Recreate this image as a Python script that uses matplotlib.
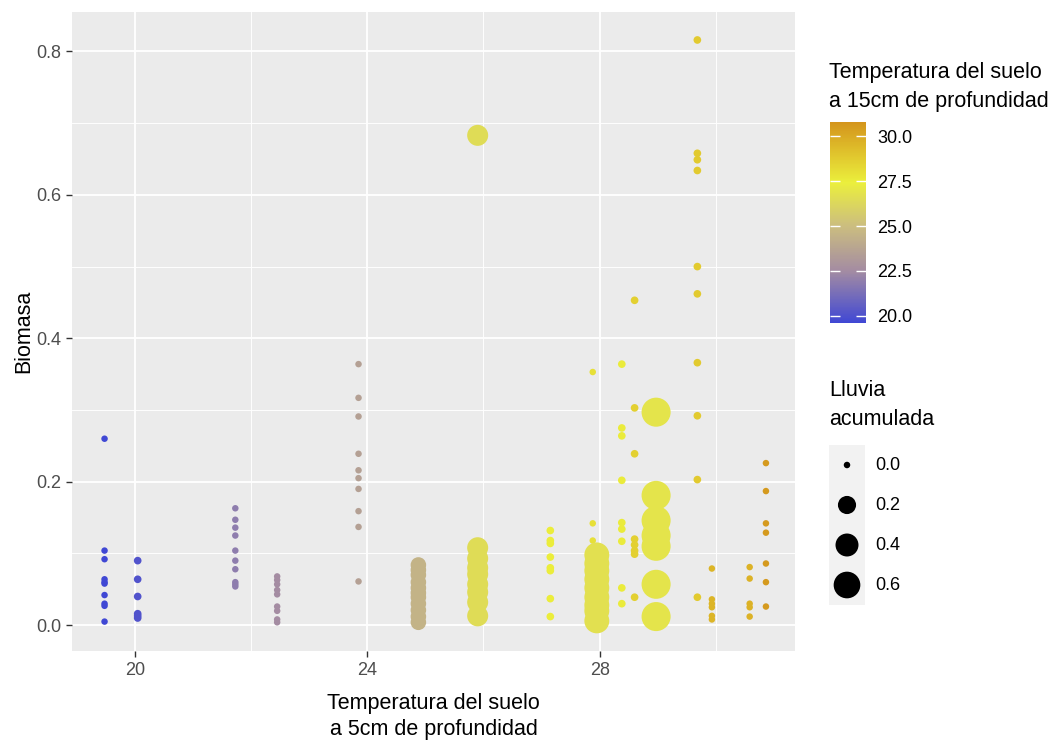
import numpy as np
import matplotlib.pyplot as plt
from matplotlib.colors import LinearSegmentedColormap, Normalize

plt.rcParams['font.family'] = ['Liberation Sans', 'DejaVu Sans']

# one entry per sampling column: soil temp at 5 cm (x), temp at 15 cm (colour), rain (size)
temp5 = [19.48, 20.05, 21.73, 22.45, 23.85, 24.88, 25.9, 27.15, 27.88, 27.95,
         28.38, 28.6, 28.97, 29.68, 29.93, 30.58, 30.86]
temp15 = [19.6, 20.1, 21.9, 22.5, 23.5, 24.5, 26.5, 27.5, 28.0, 26.7,
          27.6, 28.6, 26.9, 28.8, 29.6, 29.7, 30.6]
rain = [0.0, 0.002, 0.0, 0.0, 0.0, 0.12, 0.31, 0.002, 0.0, 0.5,
        0.002, 0.002, 0.75, 0.002, 0.0, 0.0, 0.0]
biomasa = [
    [0.260, 0.104, 0.092, 0.064, 0.060, 0.058, 0.042, 0.030, 0.027, 0.005],
    [0.090, 0.064, 0.040, 0.016, 0.013, 0.010],
    [0.163, 0.147, 0.136, 0.125, 0.104, 0.090, 0.078, 0.060, 0.057, 0.054],
    [0.068, 0.063, 0.057, 0.049, 0.043, 0.026, 0.020, 0.008, 0.004],
    [0.364, 0.317, 0.291, 0.239, 0.216, 0.205, 0.190, 0.159, 0.137, 0.061],
    [0.084, 0.077, 0.070, 0.060, 0.052, 0.045, 0.039, 0.030, 0.021, 0.012, 0.004],
    [0.683, 0.108, 0.093, 0.080, 0.071, 0.057, 0.046, 0.032, 0.013],
    [0.132, 0.118, 0.114, 0.095, 0.080, 0.076, 0.037, 0.012],
    [0.353, 0.142, 0.118, 0.108, 0.098, 0.090, 0.069, 0.052],
    [0.098, 0.086, 0.076, 0.064, 0.052, 0.039, 0.028, 0.020, 0.006],
    [0.364, 0.275, 0.264, 0.202, 0.143, 0.134, 0.117, 0.052, 0.030],
    [0.453, 0.303, 0.239, 0.120, 0.112, 0.104, 0.099, 0.039],
    [0.297, 0.181, 0.146, 0.125, 0.110, 0.057, 0.012],
    [0.816, 0.658, 0.649, 0.634, 0.500, 0.462, 0.366, 0.292, 0.203, 0.039],
    [0.079, 0.036, 0.030, 0.025, 0.013, 0.008],
    [0.081, 0.065, 0.030, 0.025, 0.012],
    [0.226, 0.187, 0.142, 0.129, 0.086, 0.060, 0.026],
]

rain_breaks = [0.0, 0.2, 0.4, 0.6]
cbar_ticks = [20.0, 22.5, 25.0, 27.5, 30.0]

cmap = LinearSegmentedColormap.from_list(
    'suelo', [(0.0, '#4048d4'), (0.26, '#a48ca2'), (0.48, '#cbbd80'),
              (0.70, '#ebef3c'), (1.0, '#d4951c')])
norm = Normalize(19.6, 30.8)


def marker_area(r):
    # ggplot-like area scale, diameter in pixels -> points^2
    d = 6.5 + 21.0 * np.sqrt(np.asarray(r) / 0.65)
    return (d * 0.72) ** 2


x, y, c, s = [], [], [], []
for i, col in enumerate(biomasa):
    x += [temp5[i]] * len(col)
    y += col
    c += [temp15[i]] * len(col)
    s += [rain[i]] * len(col)

fig = plt.figure(figsize=(10.58, 7.42), dpi=100)
ax = fig.add_axes([72 / 1058, 1 - 651 / 742, 723 / 1058, 639 / 742])
ax.set_facecolor('#ebebeb')
for sp in ax.spines.values():
    sp.set_visible(False)
ax.scatter(x, y, c=c, s=marker_area(s), cmap=cmap, norm=norm, linewidths=0, zorder=3)

ax.set_xlim(18.92, 31.36)
ax.set_ylim(-0.036, 0.855)
ax.set_xticks([20, 24, 28])
ax.set_xticks([22, 26, 30], minor=True)
ax.set_yticks([0.0, 0.2, 0.4, 0.6, 0.8])
ax.set_yticklabels(['0.0', '0.2', '0.4', '0.6', '0.8'])
ax.set_yticks([0.1, 0.3, 0.5, 0.7], minor=True)
ax.grid(which='major', color='white', lw=1.3, zorder=1)
ax.grid(which='minor', color='white', lw=0.65, zorder=1)
ax.set_axisbelow(True)
ax.tick_params(which='major', length=4, width=1, color='#333333', labelsize=13,
               labelcolor='#4d4d4d', pad=4)
ax.tick_params(which='minor', length=0)
ax.set_xlabel('Temperatura del suelo\na 5cm de profundidad', fontsize=15.5, labelpad=10,
              linespacing=1.3)
ax.set_ylabel('Biomasa', fontsize=15.5, labelpad=1)

# colour bar
cax = fig.add_axes([830 / 1058, 1 - 323 / 742, 36 / 1058, 201 / 742])
sm = plt.cm.ScalarMappable(norm=norm, cmap=cmap)
cb = fig.colorbar(sm, cax=cax, ticks=cbar_ticks)
cb.outline.set_visible(False)
cb.ax.set_yticklabels([f'{t:.1f}' for t in cbar_ticks])
cb.ax.tick_params(direction='in', left=True, right=True, color='white', length=7,
                  width=1, labelsize=13, pad=8)
fig.text(829 / 1058, 1 - 87 / 742, 'Temperatura del suelo\na 15cm de profundidad',
         fontsize=15.5, va='center', ha='left', linespacing=1.45)

# size legend
lax = fig.add_axes([829 / 1058, 1 - 605 / 742, 36 / 1058, 160 / 742])
lax.set_facecolor('#f2f2f2')
for sp in lax.spines.values():
    sp.set_visible(False)
lax.set_xticks([])
lax.set_yticks([])
lax.set_xlim(0, 1)
lax.set_ylim(4, 0)
keys_y = np.arange(len(rain_breaks)) + 0.5
lax.scatter([0.5] * len(rain_breaks), keys_y, s=marker_area(rain_breaks), color='black',
            linewidths=0)
for ky, rb in zip(keys_y, rain_breaks):
    fig.text(875 / 1058, 1 - (445 + ky * 40) / 742, f'{rb:.1f}', fontsize=13,
             va='center', ha='left')
fig.text(829 / 1058, 1 - 405 / 742, 'Lluvia\nacumulada', fontsize=15.5, va='center',
         ha='left', linespacing=1.45)

fig.savefig('out.png', dpi=100)
